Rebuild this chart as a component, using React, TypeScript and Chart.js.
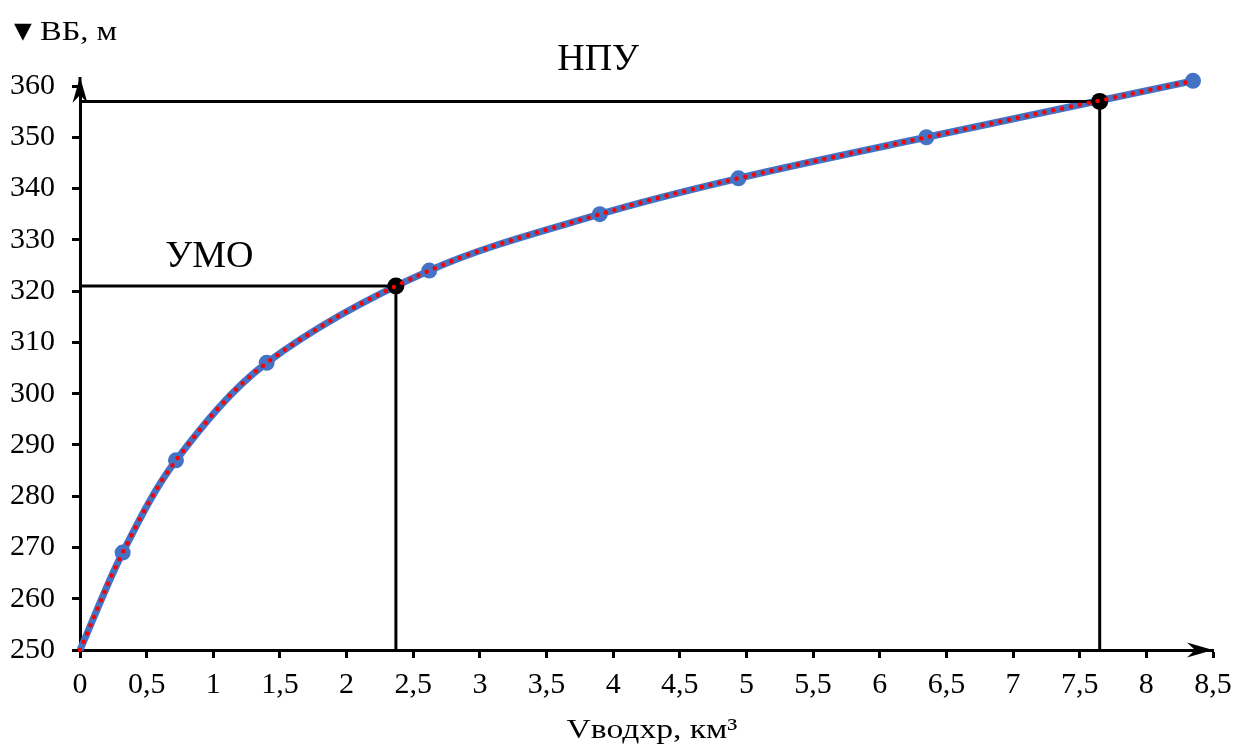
import React, { useEffect, useRef } from 'react';
import { Chart, registerables } from 'chart.js';

Chart.register(...registerables);

// Reservoir volume (km³) and headwater level (m)
const volumes = [0, 0.32, 0.72, 1.4, 2.62, 3.9, 4.94, 6.35, 8.35];
const levels = [250, 269, 287, 306, 324, 335, 342, 350, 361];
const markerRadii = [0, 8, 8, 8, 8, 8, 8, 8, 8];

const umoVolume = 2.37;
const umoLevel = 321;
const npuVolume = 7.65;
const npuLevel = 357;

const xTitle = 'Vводхр, км³';
const yTitleMark = '▼';
const yTitle = 'ВБ, м';
const umoLabel = 'УМО';
const npuLabel = 'НПУ';

const xMin = 0;
const xMax = 8.5;
const xStep = 0.5;
const yMin = 250;
const yMax = 360;
const yStep = 10;

const FONT = '"Liberation Serif", "Times New Roman", serif';
const BLUE = '#4472C4';
const RED = '#FF0000';

function drawArrow(ctx: CanvasRenderingContext2D, tipX: number, tipY: number, dirX: number, dirY: number) {
  const len = 26;
  const hw = 7.5;
  const notch = 18;
  const px = -dirY;
  const py = dirX;
  ctx.beginPath();
  ctx.moveTo(tipX, tipY);
  ctx.lineTo(tipX - dirX * len + px * hw, tipY - dirY * len + py * hw);
  ctx.lineTo(tipX - dirX * notch, tipY - dirY * notch);
  ctx.lineTo(tipX - dirX * len - px * hw, tipY - dirY * len - py * hw);
  ctx.closePath();
  ctx.fill();
}

function stretchedText(ctx: CanvasRenderingContext2D, text: string, x: number, y: number, sx: number, align: CanvasTextAlign) {
  ctx.save();
  ctx.translate(x, y);
  ctx.scale(sx, 1);
  ctx.textAlign = align;
  ctx.fillText(text, 0, 0);
  ctx.restore();
}

const annotations = {
  id: 'annotations',
  afterDraw(chart: any) {
    const { ctx, chartArea, scales } = chart;
    const xs = scales.x;
    const ys = scales.y;
    ctx.save();
    ctx.fillStyle = '#000';
    ctx.strokeStyle = '#000';
    // y axis extension + arrow
    ctx.lineWidth = 3;
    ctx.beginPath();
    ctx.moveTo(chartArea.left, chartArea.top);
    ctx.lineTo(chartArea.left, chartArea.top - 9);
    ctx.stroke();
    drawArrow(ctx, chartArea.left, chartArea.top - 9, 0, -1);
    // x axis arrow
    drawArrow(ctx, chartArea.right, chartArea.bottom, 1, 0);

    ctx.textBaseline = 'alphabetic';
    // y axis title
    ctx.font = `22px "DejaVu Sans", sans-serif`;
    stretchedText(ctx, yTitleMark, 14, 38, 1.05, 'left');
    ctx.font = `28px ${FONT}`;
    stretchedText(ctx, yTitle, 40, 40, 1.16, 'left');

    // level labels
    ctx.font = `38px ${FONT}`;
    ctx.textAlign = 'left';
    ctx.fillText(npuLabel, xs.getPixelForValue(3.58), ys.getPixelForValue(npuLevel) - 31);
    ctx.fillText(umoLabel, xs.getPixelForValue(0.64), ys.getPixelForValue(umoLevel) - 19);

    // x axis title
    ctx.font = `28px ${FONT}`;
    stretchedText(ctx, xTitle, 652, 738, 1.2, 'center');
    ctx.restore();
  },
};

const fmt = (v: number | string) => String(v).replace('.', ',');

export default function App() {
  const canvasRef = useRef<HTMLCanvasElement | null>(null);

  useEffect(() => {
    const canvas = canvasRef.current;
    if (!canvas) return;
    const curve = volumes.map((v, i) => ({ x: v, y: levels[i] }));
    const chart = new Chart(canvas, {
      type: 'line',
      data: {
        datasets: [
          {
            label: 'trend',
            data: curve,
            borderColor: RED,
            borderWidth: 4.5,
            borderDash: [0, 9],
            borderCapStyle: 'round',
            pointRadius: 0,
            tension: 0.33,
            fill: false,
            clip: false as any,
          },
          {
            label: 'key points',
            data: [
              { x: umoVolume, y: umoLevel },
              { x: npuVolume, y: npuLevel },
            ],
            showLine: false,
            pointRadius: 8.5,
            pointBackgroundColor: '#000',
            pointBorderWidth: 0,
            clip: false as any,
          },
          {
            label: 'УМО lines',
            data: [
              { x: xMin, y: umoLevel },
              { x: umoVolume, y: umoLevel },
              { x: umoVolume, y: yMin },
            ],
            borderColor: '#000',
            borderWidth: 3,
            pointRadius: 0,
            tension: 0,
            fill: false,
          },
          {
            label: 'НПУ lines',
            data: [
              { x: xMin, y: npuLevel },
              { x: npuVolume, y: npuLevel },
              { x: npuVolume, y: yMin },
            ],
            borderColor: '#000',
            borderWidth: 3,
            pointRadius: 0,
            tension: 0,
            fill: false,
          },
          {
            label: 'curve',
            data: curve,
            borderColor: BLUE,
            borderWidth: 7,
            pointRadius: markerRadii,
            pointBackgroundColor: BLUE,
            pointBorderWidth: 0,
            tension: 0.33,
            fill: false,
            clip: false as any,
          },
        ],
      },
      options: {
        animation: false,
        responsive: false,
        events: [],
        layout: { padding: { top: 86, right: 23, left: 0, bottom: 0 } },
        plugins: {
          legend: { display: false },
          tooltip: { enabled: false },
        },
        scales: {
          x: {
            type: 'linear',
            min: xMin,
            max: xMax,
            afterFit: (s: any) => {
              s.height = 94;
              s.paddingLeft = 0;
              s.paddingRight = 0;
            },
            ticks: {
              stepSize: xStep,
              autoSkip: false,
              maxRotation: 0,
              padding: 9.5,
              color: '#000',
              font: { family: FONT, size: 30 },
              callback: (v: any) => fmt(v),
            },
            grid: {
              drawOnChartArea: false,
              drawTicks: true,
              tickLength: 8,
              tickWidth: 3,
              tickColor: '#000',
            },
            border: { display: true, color: '#000', width: 3 },
          },
          y: {
            type: 'linear',
            min: yMin,
            max: yMax,
            afterFit: (s: any) => {
              s.width = 80;
              s.paddingTop = 0;
              s.paddingBottom = 0;
            },
            ticks: {
              stepSize: yStep,
              padding: 17,
              color: '#000',
              font: { family: FONT, size: 30 },
              callback: (v: any) => fmt(v),
            },
            grid: {
              drawOnChartArea: false,
              drawTicks: true,
              tickLength: 8,
              tickWidth: 3,
              tickColor: '#000',
            },
            border: { display: true, color: '#000', width: 3 },
          },
        },
      },
      plugins: [annotations],
    });
    return () => chart.destroy();
  }, []);

  return (
    <div style={{ position: 'absolute', left: 0, top: 0, width: 1236, height: 744, background: '#fff' }}>
      <canvas ref={canvasRef} width={1236} height={744} style={{ display: 'block' }} />
    </div>
  );
}
